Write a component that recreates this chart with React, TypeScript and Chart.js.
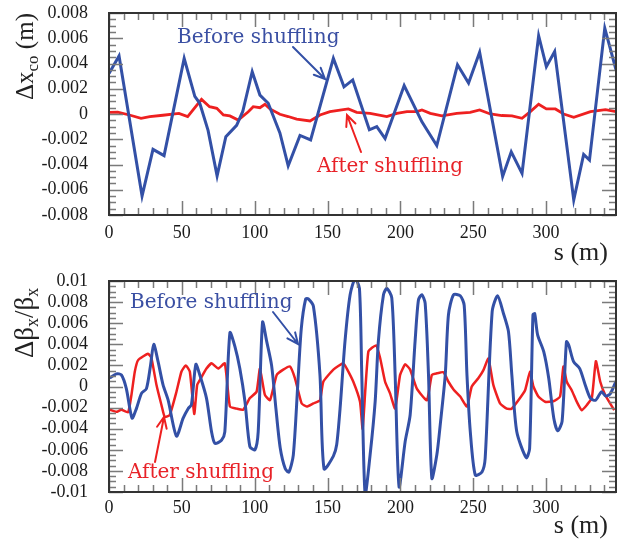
import React, { useEffect, useRef } from "react";
import { Chart, registerables } from "chart.js";

Chart.register(...registerables);

// ---------- data ----------
const X_MAX = 348;
const xTicks = [0, 50, 100, 150, 200, 250, 300];
const topYTicks = [-0.008, -0.006, -0.004, -0.002, 0, 0.002, 0.004, 0.006, 0.008];
const botYTicks = [-0.01, -0.008, -0.006, -0.004, -0.002, 0, 0.002, 0.004, 0.006, 0.008, 0.01];

// Top panel: closed-orbit distortion Δx_co (m)
const topBeforeS = [0, 6.9, 22.7, 30.2, 37.8, 51.6, 58.9, 62.3, 68, 74.2, 80.2, 87.6, 91.8, 98.3, 103.6, 109.3, 117.3, 123, 131.1, 138.4, 154, 161.3, 167.3, 178.7, 183.8, 189.5, 202.6, 214.7, 218.2, 225, 239.2, 246.8, 254.4, 270.2, 276.1, 283.5, 294.9, 300.2, 305.9, 319, 325.8, 329.8, 340.3, 348];
const topBeforeV = [0.0032, 0.0046, -0.0065, -0.0028, -0.0033, 0.0044, 0.0014, 0.00085, -0.0013, -0.0049, -0.0018, -0.0009, 0.0002, 0.00335, 0.0015, 0.00085, -0.0015, -0.0041, -0.0017, -0.00205, 0.0044, 0.00215, 0.0027, -0.00125, -0.001, -0.00195, 0.00225, -0.0006, -0.00125, -0.0025, 0.0039, 0.00245, 0.0049, -0.00495, -0.003, -0.0047, 0.0062, 0.00375, 0.00495, -0.0068, -0.0032, -0.00365, 0.0068, 0.0035];
const topAfterS = [0, 6, 14, 22, 28, 37, 48, 54, 63.5, 69, 74, 78.5, 83, 88.7, 95.6, 99, 103.6, 107, 110.5, 117.3, 123, 128.8, 138, 144.8, 151.7, 159.7, 164.3, 170, 179.2, 190.7, 197.6, 204.5, 211.4, 214.8, 220.5, 228.5, 238.7, 247.9, 254.4, 261.7, 269.7, 276.6, 283.5, 289.2, 294.9, 300.2, 306.4, 312.1, 319, 330.5, 340.8, 348];
const topAfterV = [0.00013, 0.00015, -0.00008, -0.00034, -0.0002, -0.0001, 0.00005, -0.0002, 0.00116, 0.00058, 0.00045, -0.00008, -0.00015, -0.00048, 0.00018, 0.00058, 0.0005, 0.00077, 0.0004, -0.00002, -0.0002, -0.0004, -0.00055, -0.00008, 0.00019, 0.00032, 0.0004, 0.00013, 0.00005, -0.0002, 0.00005, 0.00019, 0.00019, 0.00032, 0.00005, -0.00015, 0.00005, 0.00013, 0.00032, 0, -0.00012, -0.00015, -0.00034, 0.00019, 0.00077, 0.0004, 0.0004, 0, -0.00026, 0.00019, 0.00035, 0.00019];

// Bottom panel: beta beating Δβx/βx
const botBeforeS = [0.5, 5.1, 8.5, 11.9, 15.8, 18.8, 22.3, 25.7, 28.5, 30.7, 33.7, 37.1, 40.6, 46.3, 50.9, 54.3, 56.6, 59.6, 62.3, 66.9, 70.4, 72.7, 77.2, 79.5, 83.0, 86.4, 89.8, 93.3, 96.7, 100.2, 102.4, 105.4, 108.2, 111.6, 114.5, 117.5, 121, 123.5, 126.5, 129.5, 132, 135, 136.8, 140.3, 144.8, 147.6, 154.0, 156.3, 158.6, 162.0, 165.5, 168.9, 171.9, 173.5, 175.8, 179.2, 182.7, 184.9, 188.4, 190.7, 194.1, 196.4, 199.1, 203.3, 206.7, 210.1, 212.4, 214.7, 217.0, 219.3, 221.6, 225.0, 227.3, 230.8, 233.0, 236.5, 241.1, 243.8, 245.7, 248.0, 251.4, 256.0, 258.2, 263.0, 266.7, 270.8, 274.2, 276.5, 279.9, 286.4, 288.7, 291.0, 292.2, 294.2, 298.4, 301.8, 305.3, 308.0, 311.0, 314.0, 315.6, 318.9, 323.1, 327.0, 330.4, 334, 338, 341, 344, 348];
const botBeforeV = [0.0008, 0.0012, 0.0011, -0.0002, -0.003, -0.0021, -0.00065, -0.0002, 0.002, 0.004, 0.00235, 0.00015, -0.0013, -0.0047, -0.003, -0.0021, -0.0017, 0.0021, 0.0011, -0.0011, -0.0043, -0.0054, -0.0051, -0.0043, 0.0051, 0.0038, 0.0017, -0.0014, -0.0057, -0.006, -0.0043, 0.0061, 0.0043, 0.002, -0.002, -0.0058, -0.0078, -0.0081, -0.0065, 0, 0.0055, 0.0083, 0.0083, 0.0076, 0.0011, -0.0078, -0.0066, -0.0055, -0.0021, 0.0043, 0.0087, 0.0102, 0.0093, 0.0011, -0.0102, -0.0065, -0.0014, 0.0043, 0.0087, 0.0093, 0.0084, 0.0011, -0.0095, -0.0052, -0.0027, 0.0043, 0.0082, 0.0087, 0.0079, 0.0011, -0.0087, -0.0065, -0.0037, 0.0011, 0.0068, 0.0087, 0.0086, 0.0077, 0.0011, -0.0043, -0.0084, -0.0081, -0.0068, 0.0071, 0.0086, 0.0069, 0.0052, 0.0011, -0.0043, -0.00675, -0.0059, 0.0068, 0.0069, 0.0049, 0.0033, 0.0008, -0.003, -0.0042, -0.0033, 0.00425, 0.0039, 0.00235, 0.0017, 0.0001, -0.0011, -0.0013, -0.0005, -0.0009, -0.0007, 0.0005];
const botAfterS = [0.5, 5.1, 8.5, 13.1, 15.4, 17.7, 20.0, 26.8, 29.1, 32.6, 36.0, 38.3, 41.7, 46.3, 49.7, 52.7, 55.5, 58.5, 60.5, 62.3, 66.9, 70.4, 75.0, 79.5, 83.0, 87.6, 92.1, 96.7, 101.3, 103.6, 107.0, 110.5, 115.1, 119.6, 124.2, 127.6, 132.2, 135.7, 140.3, 144.8, 147.1, 154.0, 160.8, 163.2, 167.7, 172.3, 174.1, 178.0, 183.3, 186.1, 189.5, 192.9, 196.4, 199.8, 203.3, 206.7, 211.3, 218.2, 221.6, 225.0, 229.6, 233.0, 236.6, 241.1, 245.7, 249.0, 253.6, 257.0, 260.4, 263.8, 268.4, 273.0, 276.4, 281.0, 285.6, 289.0, 291.3, 294.7, 299.3, 305.0, 309.6, 311.9, 314.2, 317.6, 321.1, 324.5, 328.0, 331.4, 334.2, 337.2, 340.6, 346.8];
const botAfterV = [-0.0022, -0.0024, -0.0022, -0.00245, -0.0008, 0.0014, 0.0025, 0.0031, 0.0027, 0.00014, -0.00175, -0.0029, -0.0027, -0.0005, 0.0014, 0.002, 0.0014, -0.0026, 0.00014, 0.0006, 0.0017, 0.0022, 0.0017, 0.0022, -0.0019, -0.0021, -0.0022, -0.0011, -0.0005, 0.0017, -0.0008, -0.0013, 0.0011, 0.0016, 0.0019, 0.0008, -0.0016, -0.0019, -0.0016, -0.0013, 0.00045, 0.0016, 0.0022, 0.0017, 0.00045, -0.00145, -0.004, 0.0033, 0.0039, 0.0027, 0.00045, -0.00065, -0.0021, 0.0011, 0.0021, 0.0016, -0.0002, -0.0013, 0.0011, 0.00125, 0.00135, 0.00045, -0.0003, -0.00095, -0.0019, 0, 0.0008, 0.00155, 0.00265, 0.00015, -0.0016, -0.0021, -0.0021, -0.0013, -0.00035, 0.0014, 0, -0.00095, -0.00145, -0.0014, -0.00095, 0.0019, 0.00045, -0.00035, -0.00145, -0.00225, -0.00175, -0.0011, 0.0024, 0.00045, -0.0008, -0.00225];

// ---------- styles ----------
const BLUE = "#3350a6";
const RED = "#ee2020";
const BLUE_TEXT = "#3a4fa3";
const RED_TEXT = "#e82228";
const TICK_FONT = "Liberation Serif";
const LABEL_FONT = "'DejaVu Serif', serif";
const TITLE_FONT = "'Liberation Serif', serif";

type Part = { text: string; size: number; dy: number };
type Note = { text: string; color: string; x: number; y: number };
type Arrow = { from: [number, number]; to: [number, number]; color: string };

function drawArrow(ctx: CanvasRenderingContext2D, a: Arrow) {
  const [x1, y1] = a.from;
  const [x2, y2] = a.to;
  const ang = Math.atan2(y2 - y1, x2 - x1);
  const L = 12;
  const spread = 0.42;
  ctx.strokeStyle = a.color;
  ctx.lineWidth = 2;
  ctx.lineCap = "round";
  ctx.beginPath();
  ctx.moveTo(x1, y1);
  ctx.lineTo(x2, y2);
  ctx.moveTo(x2 - L * Math.cos(ang - spread), y2 - L * Math.sin(ang - spread));
  ctx.lineTo(x2, y2);
  ctx.lineTo(x2 - L * Math.cos(ang + spread), y2 - L * Math.sin(ang + spread));
  ctx.stroke();
}

function drawParts(ctx: CanvasRenderingContext2D, parts: Part[]) {
  let cx = 0;
  for (const p of parts) {
    ctx.font = `${p.size}px ${TITLE_FONT}`;
    ctx.fillText(p.text, cx, p.dy);
    cx += ctx.measureText(p.text).width;
  }
}

function makeFramePlugin(cfg: {
  minorY: number;
  yMin: number;
  yMax: number;
  notes: Note[];
  arrows: Arrow[];
  title: Part[];
  titleX: number;
  titleY: number;
  sLabelY: number;
}) {
  return {
    id: "frameDeco",
    afterDatasetsDraw(chart: any) {
      const { ctx, chartArea: a, scales } = chart;
      const x = scales.x;
      const y = scales.y;
      ctx.save();
      ctx.strokeStyle = "#7a7a7a";
      ctx.lineWidth = 1.5;
      ctx.beginPath();
      for (let v = 0; v <= X_MAX; v += 10) {
        const px = Math.round(x.getPixelForValue(v)) + 0.5;
        const len = v % 50 === 0 ? 14 : 7;
        ctx.moveTo(px, a.bottom);
        ctx.lineTo(px, a.bottom - len);
        ctx.moveTo(px, a.top);
        ctx.lineTo(px, a.top + len);
      }
      const n = Math.round((cfg.yMax - cfg.yMin) / cfg.minorY);
      for (let i = 0; i <= n; i++) {
        const v = cfg.yMin + i * cfg.minorY;
        const py = Math.round(y.getPixelForValue(v)) + 0.5;
        const len = i % 4 === 0 ? 14 : 7;
        ctx.moveTo(a.left, py);
        ctx.lineTo(a.left + len, py);
        ctx.moveTo(a.right, py);
        ctx.lineTo(a.right - len, py);
      }
      ctx.stroke();
      ctx.strokeStyle = "#333";
      ctx.lineWidth = 2;
      ctx.strokeRect(a.left, a.top, a.right - a.left, a.bottom - a.top);
      ctx.restore();
    },
    afterDraw(chart: any) {
      const { ctx } = chart;
      ctx.save();
      ctx.textBaseline = "alphabetic";
      ctx.textAlign = "left";
      for (const nt of cfg.notes) {
        ctx.font = `20px ${LABEL_FONT}`;
        ctx.fillStyle = nt.color;
        ctx.fillText(nt.text, nt.x, nt.y);
      }
      for (const ar of cfg.arrows) drawArrow(ctx, ar);
      // y-axis title
      ctx.fillStyle = "#222";
      ctx.save();
      ctx.translate(cfg.titleX, cfg.titleY);
      ctx.rotate(-Math.PI / 2);
      drawParts(ctx, cfg.title);
      ctx.restore();
      // x-axis title
      ctx.font = `26px ${TITLE_FONT}`;
      ctx.textAlign = "right";
      ctx.fillText("s (m)", 608, cfg.sLabelY);
      ctx.restore();
    },
  };
}

function fmtY(v: number) {
  const r = Math.round(v * 1000) / 1000;
  return r === 0 ? "0" : String(r);
}

function buildChart(
  canvas: HTMLCanvasElement,
  opts: {
    datasets: any[];
    yMin: number;
    yMax: number;
    yTicks: number[];
    padTop: number;
    xAxisHeight: number;
    xPad: number;
    plugin: any;
  }
) {
  return new Chart(canvas, {
    type: "line",
    data: { datasets: opts.datasets },
    options: {
      responsive: false,
      animation: false,
      devicePixelRatio: 1,
      layout: { padding: { top: opts.padTop, right: 3, left: 0, bottom: 0 } },
      plugins: { legend: { display: false }, tooltip: { enabled: false } },
      elements: { point: { radius: 0 } },
      scales: {
        x: {
          type: "linear",
          min: 0,
          max: X_MAX,
          afterBuildTicks: (s: any) => {
            s.ticks = xTicks.map((v) => ({ value: v }));
          },
          afterFit: (s: any) => {
            s.height = opts.xAxisHeight;
            s.paddingLeft = 0;
            s.paddingRight = 0;
          },
          grid: { display: false, drawTicks: false },
          border: { display: false },
          ticks: {
            padding: opts.xPad,
            color: "#1a1a1a",
            maxRotation: 0,
            autoSkip: false,
            font: { family: TICK_FONT, size: 18 },
          },
        },
        y: {
          type: "linear",
          min: opts.yMin,
          max: opts.yMax,
          afterBuildTicks: (s: any) => {
            s.ticks = opts.yTicks.map((v) => ({ value: v }));
          },
          afterFit: (s: any) => {
            s.width = 109;
            s.paddingTop = 0;
            s.paddingBottom = 0;
          },
          grid: { display: false, drawTicks: false },
          border: { display: false },
          ticks: {
            padding: 21,
            color: "#1a1a1a",
            autoSkip: false,
            font: { family: TICK_FONT, size: 18 },
            callback: (v: any) => fmtY(Number(v)),
          },
        },
      },
    } as any,
    plugins: [opts.plugin],
  });
}

function series(xs: number[], ys: number[]) {
  return xs.map((s, i) => ({ x: s, y: ys[i] }));
}

export default function App() {
  const topRef = useRef<HTMLCanvasElement>(null);
  const botRef = useRef<HTMLCanvasElement>(null);

  useEffect(() => {
    const topPlugin = makeFramePlugin({
      minorY: 0.0005,
      yMin: -0.008,
      yMax: 0.008,
      notes: [
        { text: "Before shuffling", color: BLUE_TEXT, x: 177, y: 43 },
        { text: "After shuffling", color: RED_TEXT, x: 317, y: 172 },
      ],
      arrows: [
        { from: [293, 47], to: [325, 79], color: BLUE },
        { from: [361, 152], to: [347, 115], color: RED },
      ],
      title: [
        { text: "\u0394x", size: 25, dy: 0 },
        { text: "co", size: 17, dy: 5 },
        { text: " (m)", size: 25, dy: 0 },
      ],
      titleX: 33,
      titleY: 100,
      sLabelY: 260,
    });
    const botPlugin = makeFramePlugin({
      minorY: 0.0005,
      yMin: -0.01,
      yMax: 0.01,
      notes: [
        { text: "Before shuffling", color: BLUE_TEXT, x: 130, y: 38 },
        { text: "After shuffling", color: RED_TEXT, x: 128, y: 208 },
      ],
      arrows: [
        { from: [273, 42], to: [298, 74], color: BLUE },
        { from: [155, 192], to: [164, 147], color: RED },
      ],
      title: [
        { text: "\u0394\u03b2", size: 27, dy: 0 },
        { text: "x", size: 18, dy: 5 },
        { text: "/\u03b2", size: 27, dy: 0 },
        { text: "x", size: 18, dy: 5 },
      ],
      titleX: 33,
      titleY: 88,
      sLabelY: 263,
    });

    const c1 = buildChart(topRef.current!, {
      datasets: [
        { data: series(topBeforeS, topBeforeV), borderColor: BLUE, borderWidth: 3, tension: 0, pointRadius: 0 },
        { data: series(topAfterS, topAfterV), borderColor: RED, borderWidth: 2.8, tension: 0, pointRadius: 0 },
      ],
      yMin: -0.008,
      yMax: 0.008,
      yTicks: topYTicks,
      padTop: 13,
      xAxisHeight: 55,
      xPad: 7,
      plugin: topPlugin,
    });
    const c2 = buildChart(botRef.current!, {
      datasets: [
        { data: series(botBeforeS, botBeforeV), borderColor: BLUE, borderWidth: 3, tension: 0.25, pointRadius: 0 },
        { data: series(botAfterS, botAfterV), borderColor: RED, borderWidth: 2.5, tension: 0.15, pointRadius: 0 },
      ],
      yMin: -0.01,
      yMax: 0.01,
      yTicks: botYTicks,
      padTop: 11,
      xAxisHeight: 47,
      xPad: 5,
      plugin: botPlugin,
    });
    return () => {
      c1.destroy();
      c2.destroy();
    };
  }, []);

  return (
    <div style={{ position: "absolute", left: 0, top: 0, width: 619, height: 539, background: "#fff" }}>
      <canvas ref={topRef} width={619} height={270} style={{ position: "absolute", left: 0, top: 0, display: "block" }} />
      <canvas ref={botRef} width={619} height={269} style={{ position: "absolute", left: 0, top: 270, display: "block" }} />
    </div>
  );
}
